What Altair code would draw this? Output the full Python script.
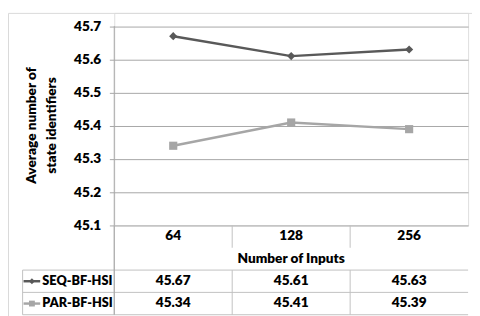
import altair as alt
import pandas as pd

# ---- data ----
categories = ["64", "128", "256"]
seq_values = [45.67, 45.61, 45.63]
par_values = [45.34, 45.41, 45.39]
series_names = ["SEQ-BF-HSI", "PAR-BF-HSI"]
y_ticks = [45.1, 45.2, 45.3, 45.4, 45.5, 45.6, 45.7]
x_title = "Number of Inputs"
y_title = ["Average number of", "state identifiers"]

# ---- layout / style ----
FONT = "Lato"
FW = 800
W, H = 363, 218
ROW_H = 22.9
N_ROWS = 4
LEG_LEFT = -0.777      # left edge of the legend column, in column units
KEY_X0, KEY_X1, KEY_MID, KEY_TEXT = -0.769, -0.628, -0.698, -0.61
SEQ_COLOR = "#595959"
PAR_COLOR = "#a6a6a6"
GRID = "#a6a6a6"
TLINE = "#c0c0c0"
FRAME = "#d9d9d9"
TXT = "#000000"

n = len(categories)
pos = [i + 0.5 for i in range(n)]
values_by_series = {series_names[0]: seq_values, series_names[1]: par_values}

long = pd.DataFrame([
    {"cat": categories[i], "pos": pos[i], "series": s, "value": values_by_series[s][i]}
    for s in series_names for i in range(n)
])

xs = alt.Scale(domain=[0, n], range=[0, W], nice=False, zero=False)
ys = alt.Scale(domain=[45.1, 45.74], nice=False, zero=False)
yt = alt.Scale(domain=[0, N_ROWS], range=[H, H + N_ROWS * ROW_H], nice=False, zero=False)
cscale = alt.Scale(domain=series_names, range=[SEQ_COLOR, PAR_COLOR])
sscale = alt.Scale(domain=series_names, range=["diamond", "square"])

y_axis = alt.Axis(
    values=y_ticks, format=".1f", grid=True, gridColor=GRID, gridWidth=1,
    domain=False, ticks=True, tickSize=5, tickColor=GRID,
    labelFont=FONT, labelFontSize=14, labelFontWeight=FW, labelColor=TXT, labelPadding=9,
    title=y_title, titleFont=FONT, titleFontSize=14, titleFontWeight=FW, titleColor=TXT,
    titlePadding=16, titleLineHeight=20, titleY=115,
)

X = lambda f: alt.X(f, scale=xs, axis=None)
YT = lambda f: alt.Y(f, scale=yt, axis=None)

# frame around the whole chart area
frame = alt.Chart(pd.DataFrame({"a": [0]})).mark_rect(fill=None, stroke=FRAME, strokeWidth=1).encode(
    x=alt.value(-108.5), x2=alt.value(W + 40), y=alt.value(0.5), y2=alt.value(H + 200)
)

# plot: lines + markers (carry the y axis / gridlines)
lines = alt.Chart(long).mark_line(strokeWidth=2.5).encode(
    x=X("pos:Q"),
    y=alt.Y("value:Q", scale=ys, axis=y_axis),
    color=alt.Color("series:N", scale=cscale, legend=None),
    detail="series:N",
)
points = alt.Chart(long).mark_point(filled=True, size=70, opacity=1).encode(
    x=X("pos:Q"),
    y=alt.Y("value:Q", scale=ys, axis=None),
    color=alt.Color("series:N", scale=cscale, legend=None),
    shape=alt.Shape("series:N", scale=sscale, legend=None),
)

# value axis line from 45.1 to 45.7
vaxis = alt.Chart(pd.DataFrame({"x": [0.0], "y1": [y_ticks[0]], "y2": [y_ticks[-1]]})).mark_rule(
    color=GRID, strokeWidth=1).encode(
    x=X("x:Q"), y=alt.Y("y1:Q", scale=ys, axis=None), y2="y2:Q")

# table lines
h_rules = pd.DataFrame({"y": [2.0, 3.0, 4.0], "x1": [LEG_LEFT] * 3, "x2": [n] * 3})
v_rules = pd.DataFrame({
    "x": [0.0, LEG_LEFT] + [float(i) for i in range(1, n)] * 2,
    "y1": [0.0, 2.0] + [0.0] * (n - 1) + [2.0] * (n - 1),
    "y2": [float(N_ROWS), float(N_ROWS)] + [1.0] * (n - 1) + [float(N_ROWS)] * (n - 1),
})
hr = alt.Chart(h_rules).mark_rule(color=TLINE, strokeWidth=1).encode(
    x=X("x1:Q"), x2="x2:Q", y=YT("y:Q"))
vr = alt.Chart(v_rules).mark_rule(color=TLINE, strokeWidth=1).encode(
    x=X("x:Q"), y=YT("y1:Q"), y2="y2:Q")
vr0 = alt.Chart(pd.DataFrame({"x": [0.0], "y1": [0.0], "y2": [float(N_ROWS)]})).mark_rule(
    color=GRID, strokeWidth=1).encode(x=X("x:Q"), y=YT("y1:Q"), y2="y2:Q")

# table text
cells = []
for i in range(n):
    cells.append({"pos": pos[i], "row": 0.5, "text": categories[i]})
    cells.append({"pos": pos[i], "row": 2.5, "text": f"{seq_values[i]:.2f}"})
    cells.append({"pos": pos[i], "row": 3.5, "text": f"{par_values[i]:.2f}"})
cells.append({"pos": n / 2, "row": 1.5, "text": x_title})
cells_df = pd.DataFrame(cells)
ctext = alt.Chart(cells_df).mark_text(font=FONT, fontSize=14, fontWeight=FW, color=TXT,
                                       baseline="middle", align="center").encode(
    x=X("pos:Q"), y=YT("row:Q"), text="text:N")

# legend column
leg = pd.DataFrame({"series": series_names, "row": [2.5, 3.5],
                    "x0": [KEY_X0] * 2, "x1": [KEY_X1] * 2, "xm": [KEY_MID] * 2, "xt": [KEY_TEXT] * 2})
key_line = alt.Chart(leg).mark_rule(strokeWidth=2.5).encode(
    x=X("x0:Q"), x2="x1:Q", y=YT("row:Q"),
    color=alt.Color("series:N", scale=cscale, legend=None))
key_pt = alt.Chart(leg).mark_point(filled=True, size=36, opacity=1).encode(
    x=X("xm:Q"), y=YT("row:Q"),
    color=alt.Color("series:N", scale=cscale, legend=None),
    shape=alt.Shape("series:N", scale=sscale, legend=None))
key_txt = alt.Chart(leg).mark_text(font=FONT, fontSize=13, fontWeight=FW, color=TXT,
                                    baseline="middle", align="left").encode(
    x=X("xt:Q"), y=YT("row:Q"), text="series:N")

chart = alt.layer(
    frame, lines, vaxis, hr, vr, vr0, ctext, key_line, key_txt, points, key_pt
).resolve_scale(
    y="independent"
).properties(
    width=W, height=H,
    autosize=alt.AutoSizeParams(type="none"),
    padding={"left": 109, "top": 1, "right": 4, "bottom": 95},
).configure_view(stroke=None).configure(background="white")

chart.save("out.html", embed_options={"renderer": "svg", "actions": False})
